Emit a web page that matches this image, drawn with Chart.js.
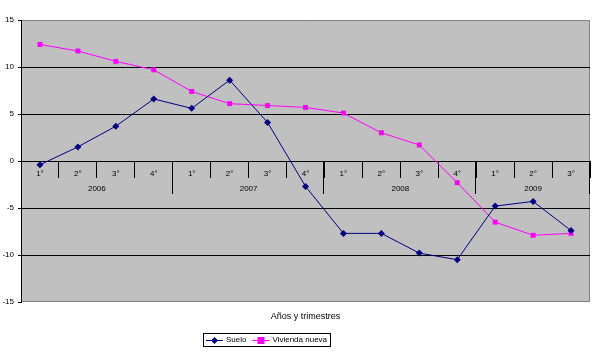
<!DOCTYPE html>
<html>
<head>
<meta charset="utf-8">
<script src="https://cdn.jsdelivr.net/npm/chart.js@4.4.0/dist/chart.umd.min.js"></script>
<style>
    html, body { margin: 0; padding: 0; background: #fff; }
</style>
</head>
<body>
<canvas id="chart" width="610" height="352"></canvas>
<script>
var quarters = ['1°', '2°', '3°', '4°', '1°', '2°', '3°', '4°', '1°', '2°', '3°', '4°', '1°', '2°', '3°'];
var years = ['2006', '2007', '2008', '2009'];
var yearSpans = [4, 4, 4, 3];
var suelo = [-0.4, 1.5, 3.7, 6.6, 5.6, 8.6, 4.1, -2.7, -7.7, -7.7, -9.8, -10.5, -4.8, -4.3, -7.4];
var vivienda = [12.4, 11.7, 10.6, 9.7, 7.4, 6.1, 5.9, 5.7, 5.1, 3.0, 1.7, -2.3, -6.5, -7.9, -7.7];
var seriesNames = ['Suelo', 'Vivienda nueva'];
var xTitle = 'Años y trimestres';

var FONT = 'Liberation Sans, Arial, sans-serif';
var NAVY = '#000080';
var MAGENTA = '#FF00FF';

// gray plot area with a gray frame (left edge is the black y axis)
var plotBg = {
    id: 'plotBg',
    beforeDraw: function(chart) {
        var a = chart.chartArea, ctx = chart.ctx;
        ctx.save();
        ctx.fillStyle = '#C0C0C0';
        ctx.fillRect(a.left, a.top, a.right - a.left, a.bottom - a.top);
        ctx.strokeStyle = '#808080';
        ctx.lineWidth = 1;
        ctx.beginPath();
        ctx.moveTo(a.left, a.top + 0.5);
        ctx.lineTo(a.right - 0.5, a.top + 0.5);
        ctx.lineTo(a.right - 0.5, a.bottom - 0.5);
        ctx.lineTo(a.left, a.bottom - 0.5);
        ctx.stroke();
        ctx.restore();
    }
};

// second level of the category axis: year separators and year names
var yearAxis = {
    id: 'yearAxis',
    beforeDatasetsDraw: function(chart) {
        var x = chart.scales.x, y0 = Math.round(chart.scales.y.getPixelForValue(0)), ctx = chart.ctx;
        var half = (x.getPixelForValue(1) - x.getPixelForValue(0)) / 2;
        ctx.save();
        ctx.strokeStyle = '#000';
        ctx.lineWidth = 1;
        ctx.fillStyle = '#000';
        ctx.font = '8px ' + FONT;
        ctx.textAlign = 'center';
        ctx.textBaseline = 'middle';
        var start = 0;
        for (var i = 0; i < years.length; i++) {
            var end = start + yearSpans[i];
            var left = x.getPixelForValue(start) - half;
            var right = x.getPixelForValue(end - 1) + half;
            var px = Math.round(right) - 0.5;
            ctx.beginPath();
            ctx.moveTo(px, y0);
            ctx.lineTo(px, y0 + 33);
            ctx.stroke();
            ctx.fillText(years[i], (left + right) / 2, y0 + 28);
            start = end;
        }
        ctx.restore();
    }
};

// axis title and bordered legend under the plot
var bottomText = {
    id: 'bottomText',
    afterDraw: function(chart) {
        var a = chart.chartArea, ctx = chart.ctx;
        ctx.save();
        ctx.fillStyle = '#000';
        ctx.textBaseline = 'middle';
        ctx.textAlign = 'center';
        ctx.font = '9px ' + FONT;
        ctx.fillText(xTitle, (a.left + a.right) / 2, 317);

        ctx.font = '8px ' + FONT;
        ctx.textAlign = 'left';
        var bx = 203, by = 333, bh = 13;
        var colors = [NAVY, MAGENTA];
        var cx = bx + 3, cy = by + bh / 2;
        var items = [];
        for (var i = 0; i < seriesNames.length; i++) {
            items.push({ x: cx, name: seriesNames[i], color: colors[i] });
            cx += 17 + 3 + ctx.measureText(seriesNames[i]).width + 6;
        }
        var bw = cx - bx - 3;
        ctx.strokeStyle = '#000';
        ctx.lineWidth = 1;
        ctx.strokeRect(bx + 0.5, by + 0.5, bw, bh);
        items.forEach(function(it, k) {
            ctx.strokeStyle = it.color;
            ctx.fillStyle = it.color;
            ctx.beginPath();
            ctx.moveTo(it.x, Math.round(cy) + 0.5);
            ctx.lineTo(it.x + 17, Math.round(cy) + 0.5);
            ctx.stroke();
            var mx = it.x + 8.5, my = Math.round(cy) + 0.5;
            ctx.beginPath();
            if (k === 0) {
                ctx.moveTo(mx, my - 3.5); ctx.lineTo(mx + 3.5, my); ctx.lineTo(mx, my + 3.5); ctx.lineTo(mx - 3.5, my);
            } else {
                ctx.rect(mx - 3.5, my - 3.5, 7, 7);
            }
            ctx.closePath();
            ctx.fill();
            ctx.fillStyle = '#000';
            ctx.fillText(it.name, it.x + 20, cy + 0.5);
        });
        ctx.restore();
    }
};

new Chart(document.getElementById('chart'), {
    type: 'line',
    data: {
        labels: quarters,
        datasets: [{
            label: seriesNames[0],
            data: suelo,
            borderColor: NAVY,
            backgroundColor: NAVY,
            borderWidth: 1,
            pointStyle: 'rectRot',
            pointRadius: 3.5,
            pointBorderWidth: 0,
            tension: 0
        }, {
            label: seriesNames[1],
            data: vivienda,
            borderColor: MAGENTA,
            backgroundColor: MAGENTA,
            borderWidth: 1,
            pointStyle: 'rect',
            pointRadius: 3.5,
            pointBorderWidth: 0,
            tension: 0
        }]
    },
    options: {
        responsive: false,
        animation: false,
        devicePixelRatio: 1,
        layout: { padding: { top: 20, right: 20, bottom: 50, left: 0 } },
        plugins: {
            legend: { display: false },
            tooltip: { enabled: false }
        },
        scales: {
            x: {
                type: 'category',
                position: { y: 0 },
                offset: true,
                grid: {
                    offset: true,
                    drawOnChartArea: false,
                    drawTicks: true,
                    tickLength: 16,
                    color: '#000',
                    tickColor: '#000'
                },
                border: { display: true, color: '#000', width: 1 },
                ticks: {
                    padding: -8,
                    autoSkip: false,
                    maxRotation: 0,
                    color: '#000',
                    font: { family: FONT, size: 8 }
                }
            },
            y: {
                min: -15,
                max: 15,
                ticks: {
                    stepSize: 5,
                    padding: 4,
                    color: '#000',
                    font: { family: FONT, size: 8 }
                },
                grid: {
                    color: function(c) { return (c.tick && Math.abs(c.tick.value) === 15) ? 'rgba(0,0,0,0)' : '#000'; },
                    tickColor: '#000',
                    tickLength: 3
                },
                border: { display: true, color: '#000', width: 1 },
                afterFit: function(scale) { scale.width = 21; }
            }
        }
    },
    plugins: [plotBg, yearAxis, bottomText]
});
</script>
</body>
</html>
